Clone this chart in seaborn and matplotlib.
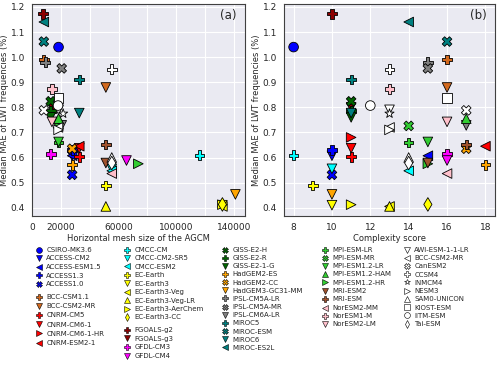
import numpy as np
import pandas as pd
import matplotlib.pyplot as plt
import seaborn as sns
from matplotlib.lines import Line2D

# model names, in legend order
models = ['CSIRO-MK3.6', 'ACCESS-CM2', 'ACCESS-ESM1.5', 'ACCESS1.3', 'ACCESS1.0',
          'BCC-CSM1.1', 'BCC-CSM2-MR',
          'CNRM-CM5', 'CNRM-CM6-1', 'CNRM-CM6-1-HR', 'CNRM-ESM2-1',
          'CMCC-CM', 'CMCC-CM2-SR5', 'CMCC-ESM2',
          'EC-Earth', 'EC-Earth3', 'EC-Earth3-Veg', 'EC-Earth3-Veg-LR', 'EC-Earth3-AerChem', 'EC-Earth3-CC',
          'FGOALS-g2', 'FGOALS-g3', 'GFDL-CM3', 'GFDL-CM4',
          'GISS-E2-H', 'GISS-E2-R', 'GISS-E2-1-G',
          'HadGEM2-ES', 'HadGEM2-CC', 'HadGEM3-GC31-MM',
          'IPSL-CM5A-LR', 'IPSL-CM5A-MR', 'IPSL-CM6A-LR',
          'MIROC5', 'MIROC-ESM', 'MIROC6', 'MIROC-ES2L',
          'MPI-ESM-LR', 'MPI-ESM-MR', 'MPI-ESM1.2-LR', 'MPI-ESM1.2-HAM', 'MPI-ESM1.2-HR',
          'MRI-ESM2', 'MRI-ESM',
          'NorESM2-MM', 'NorESM1-M', 'NorESM2-LM',
          'AWI-ESM-1-1-LR', 'BCC-CSM2-MR', 'CanESM2', 'CCSM4', 'INMCM4', 'NESM3',
          'SAM0-UNICON', 'KIOST-ESM', 'IITM-ESM', 'Tai-ESM']

# median MAE of LWT frequencies (%)
mae = [1.04, 0.607, 0.607, 0.63, 0.531,
       0.99, 0.879,
       0.603, 0.637, 0.68, 0.645,
       0.609, 0.555, 0.547,
       0.488, 0.41, 0.405, 0.405, 0.412, 0.413,
       1.173, 0.80, 0.614, 0.588,
       0.824, 0.785, 0.76,
       0.571, 0.635, 0.453,
       0.98, 0.955, 0.728,
       0.911, 1.062, 0.777, 1.14,
       0.66, 0.726, 0.662, 0.755, 0.575,
       0.578, 0.652,
       0.536, 0.873, 0.742,
       0.79, 0.72, 0.788, 0.952, 0.775, 0.71,
       0.60, 0.836, 0.807, 0.578]

# horizontal mesh size of the AGCM
mesh = [18400, 27840, 27840, 27840, 27840,
        8192, 51200,
        32768, 32768, np.nan, 32768,
        116000, 55296, 55296,
        51200, 132000, 132000, 51200, 132000, 132000,
        7680, 14400, 12960, 65500,
        12960, 12960, 12960,
        27840, 27840, 141000,
        9216, 20592, 20592,
        32768, 8192, 32768, 8192,
        18432, 18432, 18432, 18432, 73728,
        51200, 51200,
        55296, 13824, 13824,
        18432, 18000, 8192, 55296, 21600, 18432,
        55296, 18432, 18048, 55296]

# complexity score
score = [8, 10, 15, 10, 10,
         16, 16,
         11, 11, 11, 18,
         8, 10, 14,
         9, 10, 13, 13, 11, 15,
         10, 11, 16, 16,
         11, 11, 11,
         18, 17, 10,
         15, 15, 17,
         11, 16, 11, 14,
         14, 14, 15, 17, 15,
         15, 17,
         16, 13, 16,
         13, 13, 17, 13, 13, 13,
         14, 16, 12, 14]

colors = (['blue'] * 5 + ['chocolate'] * 2 + ['red'] * 4 + ['cyan'] * 3 + ['yellow'] * 6
          + ['darkred'] * 2 + ['magenta'] * 2 + ['darkgreen'] * 3 + ['orange'] * 3
          + ['gray'] * 3 + ['teal'] * 4 + ['limegreen'] * 5 + ['sienna'] * 2
          + ['pink'] * 3 + ['white'] * 10)
marks = (['o', 'v', '<', 'P', 'X'] + ['P', 'v'] + ['P', 'v', '>', '<'] + ['P', 'v', '<']
         + ['P', 'v', '<', '^', '>', 'd'] + ['P', 'v'] + ['P', 'v'] + ['X', 'P', 'v']
         + ['P', 'X', 'v'] + ['P', 'X', 'v'] + ['P', 'X', 'v', '<']
         + ['P', 'X', 'v', '^', '>'] + ['v', 'P'] + ['<', 'P', 'v']
         + ['v', '<', 'X', 'P', '*', '>', '^', 's', 'o', 'd'])

keys = [f'm{i:02d}' for i in range(len(models))]
df = pd.DataFrame({'key': keys, 'model': models, 'mae': mae, 'mesh': mesh, 'score': score})
pal = dict(zip(keys, colors))
mk = dict(zip(keys, marks))

sns.set_style('darkgrid', {'axes.edgecolor': '0.25', 'axes.linewidth': 0.8})

fig = plt.figure(figsize=(5, 3.7), dpi=100)
ax1 = fig.add_axes([0.064, 0.416, 0.426, 0.573])
ax2 = fig.add_axes([0.568, 0.416, 0.422, 0.573])

for ax, xcol in [(ax1, 'mesh'), (ax2, 'score')]:
    sns.scatterplot(data=df, x=xcol, y='mae', hue='key', style='key', palette=pal,
                    markers=mk, s=48, edgecolor='black', linewidth=0.6,
                    legend=False, ax=ax)
    ax.set_ylabel('Median MAE of LWT frequencies (%)', fontsize=6, labelpad=1.5)
    ax.tick_params(labelsize=6.5, pad=1.5)

ax1.set_xticks(range(0, 140001, 20000))
ax1.set_xticklabels(['0', '20000', '', '60000', '', '100000', '', '140000'])
ax1.set_xlabel('Horizontal mesh size of the AGCM', fontsize=6, labelpad=1.5)
ax2.set_xticks([8, 10, 12, 14, 16, 18])
ax2.set_xlabel('Complexity score', fontsize=6, labelpad=1.5)
ax1.text(0.96, 0.975, '(a)', transform=ax1.transAxes, ha='right', va='top', fontsize=8.5)
ax2.text(0.96, 0.975, '(b)', transform=ax2.transAxes, ha='right', va='top', fontsize=8.5)

# legend blocks: (left px, first entry, number of entries, centre of first row px, spacing)
blocks = [(36, 0, 5, 250, 0.36), (36, 5, 6, 297, 0.46),
          (124, 11, 9, 250, 0.35), (124, 20, 4, 330, 0.39),
          (222, 24, 13, 250, 0.31),
          (322, 37, 5, 250, 0.31), (322, 42, 2, 291, 0.31), (322, 44, 3, 308, 0.31),
          (404, 47, 10, 250, 0.32)]
W, H = 500, 370
for x0, start, n, yc, ls in blocks:
    handles = []
    for i in range(start, start + n):
        handles.append(Line2D([], [], ls='none', marker=marks[i], markerfacecolor=colors[i],
                              markeredgecolor='black', markeredgewidth=0.4, markersize=4.2,
                              label=models[i]))
    fig.legend(handles=handles, loc='upper left', bbox_to_anchor=(x0 / W, 1 - (yc - 3) / H),
               frameon=False, fontsize=5, handlelength=1.0, handletextpad=0.5,
               labelspacing=ls, borderpad=0, borderaxespad=0)

plt.savefig('out.png', dpi=100)
